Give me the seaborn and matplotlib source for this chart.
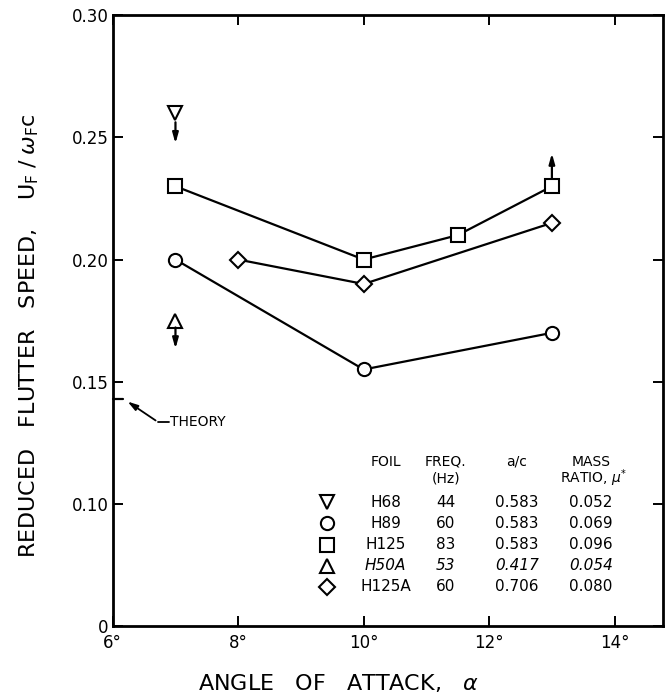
import numpy as np
import pandas as pd
import seaborn as sns
import matplotlib.pyplot as plt

# Data (reduced flutter speed vs angle of attack)
h89_alpha = [7, 10, 13]
h89_speed = [0.200, 0.155, 0.170]
h125_alpha = [7, 10, 11.5, 13]
h125_speed = [0.230, 0.200, 0.210, 0.230]
h125a_alpha = [8, 10, 13]
h125a_speed = [0.200, 0.190, 0.215]
h68_alpha = [7]
h68_speed = [0.260]
h50a_alpha = [7]
h50a_speed = [0.175]
theory_speed = 0.143

# legend table contents
foils = ['H68', 'H89', 'H125', 'H50A', 'H125A']
freqs = ['44', '60', '83', '53', '60']
a_over_c = ['0.583', '0.583', '0.583', '0.417', '0.706']
mass_ratio = ['0.052', '0.069', '0.096', '0.054', '0.080']
foil_markers = ['v', 'o', 's', '^', 'D']

sns.set_theme(style='ticks')
plt.rcParams['font.family'] = ['DejaVu Sans']
plt.rcParams['text.color'] = 'black'
plt.rcParams['axes.labelcolor'] = 'black'
plt.rcParams['xtick.color'] = 'black'
plt.rcParams['ytick.color'] = 'black'

fig = plt.figure(figsize=(6.71, 6.94), dpi=100)
ax = fig.add_axes([0.168, 0.098, 0.820, 0.880])


def msize(m):
    return 8 if m == 'D' else 9.5


series = [
    (h89_alpha, h89_speed, 'o'),
    (h125_alpha, h125_speed, 's'),
    (h125a_alpha, h125a_speed, 'D'),
    (h68_alpha, h68_speed, 'v'),
    (h50a_alpha, h50a_speed, '^'),
]
for xs, ys, m in series:
    df = pd.DataFrame({'alpha': xs, 'speed': ys})
    sns.lineplot(data=df, x='alpha', y='speed', ax=ax, marker=m,
                 markersize=msize(m), color='black', lw=1.6,
                 markerfacecolor='white', markeredgecolor='black',
                 markeredgewidth=1.5, zorder=3)

# bound arrows (drawn above the markers' white faces)
arr = dict(arrowstyle='-|>,head_length=0.5,head_width=0.14', color='black', lw=1.6,
           shrinkA=0, shrinkB=0)
ax.annotate('', xy=(h68_alpha[0], h68_speed[0] - 0.0125),
            xytext=(h68_alpha[0], h68_speed[0] - 0.0038), arrowprops=arr, zorder=5)
ax.annotate('', xy=(h50a_alpha[0], h50a_speed[0] - 0.0115),
            xytext=(h50a_alpha[0], h50a_speed[0] - 0.0028), arrowprops=arr, zorder=5)
ax.annotate('', xy=(h125_alpha[-1], h125_speed[-1] + 0.0135),
            xytext=(h125_alpha[-1], h125_speed[-1] + 0.0035), arrowprops=arr, zorder=5)

# theory mark on the axis
ax.plot([6.0, 6.17], [theory_speed, theory_speed], color='black', lw=1.6,
        clip_on=False)
ax.annotate('', xy=(6.2, theory_speed - 0.0005), xytext=(6.72, theory_speed - 0.0095),
            arrowprops=dict(arrowstyle='-|>,head_length=0.5,head_width=0.15',
                            color='black', lw=1.3))
ax.plot([6.72, 6.9], [theory_speed - 0.0095, theory_speed - 0.0095],
        color='black', lw=1.3)
ax.text(6.92, theory_speed - 0.0095, 'THEORY', fontsize=10, va='center', ha='left')

# legend table
xm, xf, xq, xa, xr = 9.41, 10.35, 11.31, 12.44, 13.62
y_head1, y_head2 = 0.1172, 0.1104
hd = dict(ha='center', va='center', fontsize=10)
ax.text(xf, y_head1, 'FOIL', **hd)
ax.text(xq, y_head1, 'FREQ.', **hd)
ax.text(xq, y_head2, '(Hz)', **hd)
ax.text(xa, y_head1, 'a/c', **hd)
ax.text(xr, y_head1, 'MASS', **hd)
ax.text(xr + 0.05, y_head2, r'RATIO, $\mu^{*}$', **hd)
row_y = [0.1007, 0.0921, 0.0833, 0.0747, 0.0661]
for i, yy in enumerate(row_y):
    ax.plot([xm], [yy], marker=foil_markers[i], mfc='white', mec='black', mew=1.5,
            ms=msize(foil_markers[i]), ls='none')
    st = 'italic' if foils[i] == 'H50A' else 'normal'
    ax.text(xf, yy, foils[i], ha='center', va='center', fontsize=11, style=st)
    ax.text(xq, yy, freqs[i], ha='center', va='center', fontsize=11, style=st)
    ax.text(xa, yy, a_over_c[i], ha='center', va='center', fontsize=11, style=st)
    ax.text(xr, yy, mass_ratio[i], ha='center', va='center', fontsize=11, style=st)

# axes styling
ax.set_xlim(6, 14.77)
ax.set_ylim(0.05, 0.30)
ax.set_xticks([6, 8, 10, 12, 14])
ax.set_xticklabels(['6°', '8°', '10°', '12°', '14°'], fontsize=12)
ax.set_yticks([0.05, 0.10, 0.15, 0.20, 0.25, 0.30])
ax.set_yticklabels(['0', '0.10', '0.15', '0.20', '0.25', '0.30'], fontsize=12)
ax.tick_params(direction='in', length=7, width=1.4, top=True, right=True)
ax.tick_params(axis='x', pad=6)
ax.tick_params(axis='y', pad=3)
for s in ax.spines.values():
    s.set_linewidth(2)
    s.set_color('black')

ax.set_xlabel(r'ANGLE   OF   ATTACK,   $\alpha$', fontsize=16)
ax.xaxis.set_label_coords(0.41, -0.075)
ax.set_ylabel(r'REDUCED   FLUTTER   SPEED,    $\mathrm{U_F}\;/\;\omega_{\mathrm{F}}\mathrm{c}$',
              fontsize=16)
ax.yaxis.set_label_coords(-0.13, 0.475)

fig.savefig('out.png', dpi=100)
